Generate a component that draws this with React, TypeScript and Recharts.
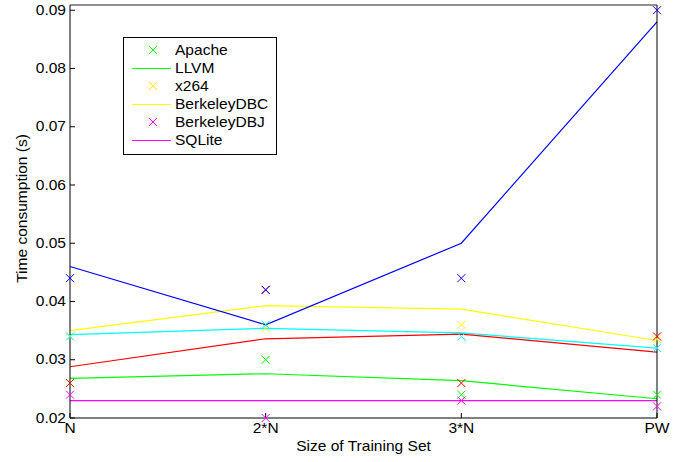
import { LineChart, Line, XAxis, YAxis, Label } from "recharts";

const categories = ["N", "2*N", "3*N", "PW"];
const yTicks = [0.02, 0.03, 0.04, 0.05, 0.06, 0.07, 0.08, 0.09];

// fitted curves (lines) and measured points (crosses) per colour
const blueFit = [0.046, 0.036, 0.05, 0.088];
const blueObs = [0.044, 0.042, 0.044, 0.09];
const yellowFit = [0.035, 0.0393, 0.0387, 0.0333];
const yellowObs = [0.034, 0.0355, 0.036, 0.0335];
const cyanFit = [0.0343, 0.0354, 0.0346, 0.032];
const cyanObs = [0.034, 0.036, 0.034, 0.032];
const redFit = [0.0288, 0.0336, 0.0344, 0.0313];
const redObs = [0.026, 0.042, 0.026, 0.034];
const greenFit = [0.0268, 0.0276, 0.0264, 0.0233];
const greenObs = [0.026, 0.03, 0.024, 0.024];
const magentaFit = [0.023, 0.023, 0.023, 0.023];
const magentaObs = [0.024, 0.02, 0.023, 0.022];

const legendNames = ["Apache", "LLVM", "x264", "BerkeleyDBC", "BerkeleyDBJ", "SQLite"];
const legendKinds = ["x", "line", "x", "line", "x", "line"];

const C = {
  blue: "#0000ff",
  yellow: "#ffff00",
  cyan: "#00ffff",
  red: "#ff0000",
  green: "#00ff00",
  magenta: "#ff00ff",
};
const legendColors = [C.green, C.green, C.yellow, C.yellow, C.magenta, C.magenta];

const series = [
  { id: "green", color: C.green, fit: greenFit, obs: greenObs },
  { id: "magenta", color: C.magenta, fit: magentaFit, obs: magentaObs },
  { id: "yellow", color: C.yellow, fit: yellowFit, obs: yellowObs },
  { id: "cyan", color: C.cyan, fit: cyanFit, obs: cyanObs },
  { id: "red", color: C.red, fit: redFit, obs: redObs },
  { id: "blue", color: C.blue, fit: blueFit, obs: blueObs },
];

const data = categories.map((cat, i) => {
  const row: Record<string, string | number> = { cat };
  series.forEach((s) => {
    row[s.id + "Fit"] = s.fit[i];
    row[s.id + "Obs"] = s.obs[i];
  });
  return row;
});

const FONT = "'Liberation Sans', Arial, Helvetica, sans-serif";
const FS = 14;
const STRETCH = 1.11; // glyphs are drawn a little wide

// text anchored at (x, y), widened horizontally
function WideText({ x, y, anchor = "start", baseline = "central", rotate = 0, children }: any) {
  return (
    <g transform={`translate(${x},${y}) rotate(${rotate})`}>
      <text
        transform={`scale(${STRETCH},1)`}
        textAnchor={anchor}
        dominantBaseline={baseline}
        fontSize={FS}
        fontFamily={FONT}
        fill="#000"
      >
        {children}
      </text>
    </g>
  );
}

function Cross({ cx, cy, color, r = 4 }: any) {
  return (
    <path
      d={`M${cx - r},${cy - r}L${cx + r},${cy + r}M${cx - r},${cy + r}L${cx + r},${cy - r}`}
      stroke={color}
      strokeWidth={1}
      fill="none"
    />
  );
}

function MatlabLegend() {
  const rowH = 18;
  return (
    <svg
      width={154}
      height={118}
      style={{ position: "absolute", left: 123, top: 37, display: "block" }}
    >
      <rect x={0.5} y={0.5} width={153} height={117} fill="#fff" stroke="#000" strokeWidth={1} />
      {legendNames.map((name, i) => {
        const y = 13 + i * rowH;
        const color = legendColors[i];
        return (
          <g key={name}>
            {legendKinds[i] === "x" ? (
              <Cross cx={30} cy={y} color={color} />
            ) : (
              <line x1={9} x2={48} y1={y + 0.5} y2={y + 0.5} stroke={color} strokeWidth={1} />
            )}
            <WideText x={52} y={y}>{name}</WideText>
          </g>
        );
      })}
    </svg>
  );
}

function XTick({ x, y, payload }: any) {
  return <WideText x={x} y={y} anchor="middle" baseline="hanging">{payload.value}</WideText>;
}

function YTick({ x, y, payload }: any) {
  return <WideText x={x} y={y} anchor="end">{Number(payload.value).toFixed(2)}</WideText>;
}

export default function App() {
  return (
    <div style={{ position: "absolute", left: 0, top: 0, width: 692, height: 462, background: "#fff" }}>
      <LineChart width={692} height={462} data={data} margin={{ top: 0, right: 0, bottom: 0, left: 0 }}>
        <XAxis
          xAxisId="b"
          dataKey="cat"
          height={44}
          stroke="#000"
          tick={<XTick />}
          tickSize={-5}
          tickMargin={10}
        >
          <Label
            content={({ viewBox }: any) => (
              <WideText x={viewBox.x + viewBox.width / 2} y={446} anchor="middle">
                Size of Training Set
              </WideText>
            )}
          />
        </XAxis>
        <XAxis xAxisId="t" dataKey="cat" orientation="top" height={5} stroke="#222" tick={false} tickSize={-5} />
        <YAxis
          yAxisId="l"
          type="number"
          domain={[0.02, 0.0909]}
          ticks={yTicks}
          width={70}
          stroke="#000"
          tick={<YTick />}
          tickSize={-5}
          tickMargin={9}
        >
          <Label
            content={({ viewBox }: any) => (
              <WideText x={22} y={viewBox.y + viewBox.height / 2 - 3} anchor="middle" rotate={-90}>
                Time consumption (s)
              </WideText>
            )}
          />
        </YAxis>
        <YAxis
          yAxisId="r"
          orientation="right"
          type="number"
          domain={[0.02, 0.0909]}
          ticks={yTicks}
          width={35}
          stroke="#000"
          tick={false}
          tickSize={-5}
        />
        {series.map((s) => (
          <Line
            key={s.id + "Fit"}
            xAxisId="b"
            yAxisId="l"
            dataKey={s.id + "Fit"}
            stroke={s.color}
            strokeWidth={1.2}
            dot={false}
            activeDot={false}
            isAnimationActive={false}
          />
        ))}
        {series.map((s) => (
          <Line
            key={s.id + "Obs"}
            xAxisId="b"
            yAxisId="l"
            dataKey={s.id + "Obs"}
            stroke="none"
            dot={(p: any) => <Cross key={s.id + "-x-" + p.index} cx={p.cx} cy={p.cy} color={s.color} />}
            activeDot={false}
            isAnimationActive={false}
          />
        ))}
      </LineChart>
      <MatlabLegend />
    </div>
  );
}
